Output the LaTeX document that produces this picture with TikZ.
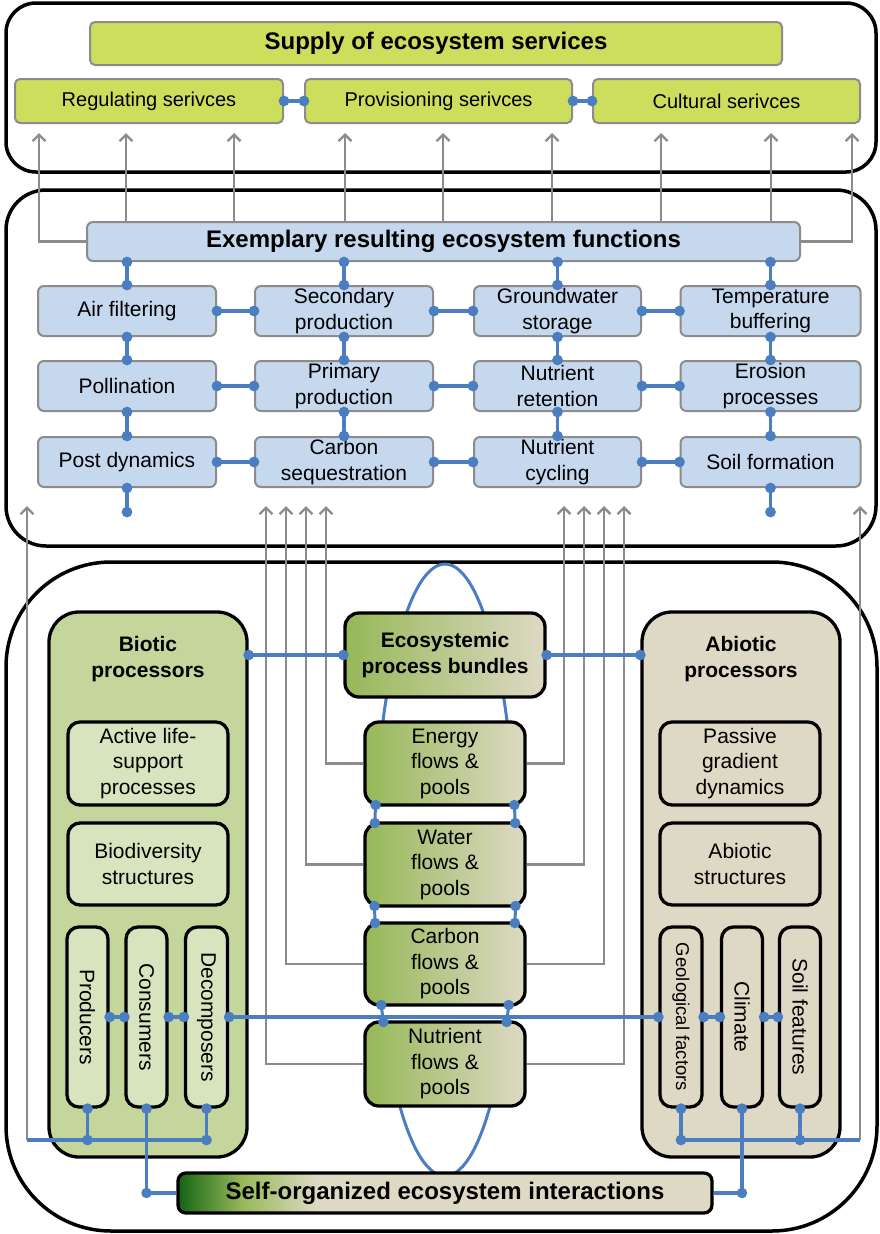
\documentclass[tikz,border=0pt]{standalone}
\usepackage{fontspec}
\setmainfont{Liberation Sans}
\usetikzlibrary{arrows.meta}
\definecolor{blu}{RGB}{74,126,192}
\definecolor{gry}{RGB}{140,140,140}
\definecolor{svcg}{RGB}{205,222,92}
\definecolor{fun}{RGB}{198,216,238}
\definecolor{bio}{RGB}{196,214,155}
\definecolor{bioin}{RGB}{216,228,190}
\definecolor{abio}{RGB}{221,217,196}
\definecolor{grn}{RGB}{150,184,88}
\definecolor{dkgrn}{RGB}{20,100,20}
\pgfdeclarehorizontalshading{selforg}{100bp}{color(0bp)=(dkgrn); color(25bp)=(dkgrn); color(31bp)=(grn); color(38bp)=(abio); color(100bp)=(abio)}
\pgfdeclarelayer{bg}
\pgfsetlayers{bg,main}
\begin{document}
\begin{tikzpicture}[x=1pt,y=-1pt,
  outerbox/.style={draw=black,line width=3.5},
  svc/.style={draw=gry,line width=2,fill=svcg,rounded corners=5,inner sep=0,font=\fontsize{20}{24}\selectfont},
  fbox/.style={draw=gry,line width=2,fill=fun,rounded corners=6,inner sep=0,align=center,font=\fontsize{21}{25.5}\selectfont},
  pbox/.style={draw=black,line width=3.3,rounded corners=12,inner sep=0,align=center,font=\fontsize{21}{25.5}\selectfont},
  flowbox/.style={pbox,rounded corners=14,left color=grn,right color=abio},
  titletext/.style={inner sep=0,align=center,font=\fontsize{21}{26}\selectfont\bfseries},
  bigbold/.style={font=\fontsize{24}{28}\selectfont\bfseries},
  bc/.style={draw=blu,line width=3.2,{Circle[length=10.5pt]}-{Circle[length=10.5pt]},shorten <=-5.25pt,shorten >=-5.25pt},
  bcs/.style={draw=blu,line width=3.2,{Circle[length=10.5pt]}-,shorten <=-5.25pt},
  bl/.style={draw=blu,line width=3.2},
  ga/.style={draw=gry,line width=2.3,-{Straight Barb[length=6.5pt,width=13pt]}},
  ell/.style={draw=blu,line width=3}
]
\useasboundingbox (0,0) rectangle (879,1234);

% ---------- top: services ----------
\node[svc,bigbold,minimum width=692,minimum height=43] (sup) at (436,43.5) {Supply of ecosystem services};
\node[svc,minimum width=268,minimum height=44] (reg) at (149,101) {Regulating serivces};
\node[svc,minimum width=267,minimum height=44] (pro) at (438.5,101) {Provisioning serivces};
\node[svc,minimum width=267,minimum height=44] (cul) at (726.5,101) {Cultural serivces};

% ---------- middle: functions ----------
\node[fbox,bigbold,minimum width=713,minimum height=39] (ex) at (443.5,241.5) {Exemplary resulting ecosystem functions};
\node[fbox,minimum width=178,minimum height=50] (f11) at (127,311) {Air filtering};
\node[fbox,minimum width=178,minimum height=50] (f12) at (344,311) {Secondary\\production};
\node[fbox,minimum width=167,minimum height=50] (f13) at (557.5,311) {Groundwater\\storage};
\node[fbox,minimum width=180,minimum height=50] (f14) at (770.5,311) {Temperature\\buffering};
\node[fbox,minimum width=178,minimum height=50] (f21) at (127,386) {Pollination};
\node[fbox,minimum width=178,minimum height=50] (f22) at (344,386) {Primary\\production};
\node[fbox,minimum width=167,minimum height=50] (f23) at (557.5,386) {Nutrient\\retention};
\node[fbox,minimum width=180,minimum height=50] (f24) at (770.5,386) {Erosion\\processes};
\node[fbox,minimum width=178,minimum height=50] (f31) at (127,462) {Post dynamics};
\node[fbox,minimum width=178,minimum height=50] (f32) at (344,462) {Carbon\\sequestration};
\node[fbox,minimum width=167,minimum height=50] (f33) at (557.5,462) {Nutrient\\cycling};
\node[fbox,minimum width=180,minimum height=50] (f34) at (770.5,462) {Soil formation};

% ---------- bottom: processors ----------
\node[pbox,fill=bio,rounded corners=30,minimum width=198,minimum height=545] (bio) at (148,884.5) {};
\node[titletext] (bioT) at (148,659) {Biotic\\processors};
\node[pbox,fill=bioin,minimum width=160,minimum height=83] (act) at (148,763.5) {Active life-\\support\\processes};
\node[pbox,fill=bioin,minimum width=160,minimum height=82] (bdv) at (148,864) {Biodiversity\\structures};
\node[pbox,fill=bioin,rotate=-90,minimum width=180,minimum height=41] (pr) at (87.5,1017) {Producers};
\node[pbox,fill=bioin,rotate=-90,minimum width=180,minimum height=41] (co) at (146.5,1017) {Consumers};
\node[pbox,fill=bioin,rotate=-90,minimum width=180,minimum height=42] (de) at (206.5,1017) {Decomposers};

\node[pbox,fill=abio,rounded corners=30,minimum width=198,minimum height=545] (abi) at (741,884.5) {};
\node[titletext] (abiT) at (741,659) {Abiotic\\processors};
\node[pbox,fill=abio,minimum width=160,minimum height=83] (pas) at (740,763.5) {Passive\\gradient\\dynamics};
\node[pbox,fill=abio,minimum width=160,minimum height=82] (abs) at (740,864) {Abiotic\\structures};
\node[pbox,fill=abio,rotate=-90,minimum width=180,minimum height=42,font=\fontsize{18.5}{22}\selectfont] (geo) at (681,1017) {Geological factors};
\node[pbox,fill=abio,rotate=-90,minimum width=180,minimum height=41] (cli) at (742,1017) {Climate};
\node[pbox,fill=abio,rotate=-90,minimum width=180,minimum height=41] (soil) at (800,1017) {Soil features};

\node[flowbox,font=\fontsize{21}{25.5}\selectfont\bfseries,minimum width=200,minimum height=84] (bun) at (445,655) {Ecosystemic\\process bundles};
\node[flowbox,minimum width=160,minimum height=83] (en) at (445,763.5) {Energy\\flows \&\\pools};
\node[flowbox,minimum width=160,minimum height=83] (wa) at (445,864.5) {Water\\flows \&\\pools};
\node[flowbox,minimum width=160,minimum height=82] (ca) at (445,964) {Carbon\\flows \&\\pools};
\node[flowbox,minimum width=160,minimum height=84] (nu) at (445,1064) {Nutrient\\flows \&\\pools};

\node[pbox,shade,shading=selforg,bigbold,rounded corners=8,minimum width=534,minimum height=40] (so) at (445,1193) {Self-organized ecosystem interactions};

% ---------- coordinates ----------
\coordinate (a1) at (39,133);
\coordinate (a2) at (126,133);
\coordinate (a3) at (234,133);
\coordinate (a4) at (345,133);
\coordinate (a5) at (443,133);
\coordinate (a6) at (552,133);
\coordinate (a7) at (661,133);
\coordinate (a8) at (771,133);
\coordinate (a9) at (852,133);
\coordinate (d1) at (127,512);
\coordinate (d4) at (770.5,512);
\coordinate (la) at (27,506);
\coordinate (ra) at (860,506);
\coordinate (lb) at (27,1140);
\coordinate (rb) at (860,1140);
\coordinate (e1) at (326,506);
\coordinate (e2) at (306,506);
\coordinate (e3) at (286,506);
\coordinate (e4) at (266,506);
\coordinate (g1) at (564,506);
\coordinate (g2) at (584,506);
\coordinate (g3) at (604,506);
\coordinate (g4) at (624,506);

% ---------- background: frames, ellipse, grey arrows ----------
\begin{pgfonlayer}{bg}
\draw[outerbox,rounded corners=30] (6,3) rectangle (876,172);
\draw[outerbox,rounded corners=40] (6,190) rectangle (876,546);
\draw[outerbox,rounded corners=105] (6,562) rectangle (877,1231);
\draw[ell] (445,870) ellipse [x radius=71,y radius=306];
\draw[ga] (ex.west) -| (a1);
\draw[ga] (ex.east) -| (a9);
\foreach \n in {a2,a3,a4,a5,a6,a7,a8} \draw[ga] (ex.north -| \n) -- (\n);
\draw[ga] (lb) -- (la);
\draw[ga] (rb) -- (ra);
\draw[ga] (en.west) -| (e1);
\draw[ga] (wa.west) -| (e2);
\draw[ga] (ca.west) -| (e3);
\draw[ga] (nu.west) -| (e4);
\draw[ga] (en.east) -| (g1);
\draw[ga] (wa.east) -| (g2);
\draw[ga] (ca.east) -| (g3);
\draw[ga] (nu.east) -| (g4);
\end{pgfonlayer}

% ---------- blue connectors ----------
\draw[bc] (reg.east) -- (pro.west);
\draw[bc] (pro.east) -- (cul.west);
\foreach \c in {1,2,3,4} {
  \draw[bc] (ex.south -| f1\c.north) -- (f1\c.north);
  \draw[bc] (f1\c.south) -- (f2\c.north);
  \draw[bc] (f2\c.south) -- (f3\c.north);
}
\foreach \r in {1,2,3} {
  \draw[bc] (f\r1.east) -- (f\r2.west);
  \draw[bc] (f\r2.east) -- (f\r3.west);
  \draw[bc] (f\r3.east) -- (f\r4.west);
}
\draw[bc] (f31.south) -- (d1);
\draw[bc] (f34.south) -- (d4);

\draw[bc] (bio.east |- bun.west) -- (bun.west);
\draw[bc] (bun.east) -- (abi.west |- bun.east);
\draw[bc] (pr.north) -- (co.south);
\draw[bc] (co.north) -- (de.south);
\draw[bc] (de.north) -- (geo.south);
\draw[bc] (geo.north) -- (cli.south);
\draw[bc] (cli.north) -- (soil.south);

\draw[bl] (lb) -- (de.east |- lb);
\draw[bc] (pr.east) -- (pr.east |- lb);
\draw[bc] (de.east) -- (de.east |- lb);
\draw[bcs] (co.east) -- (co.east |- so.west) -- (so.west);
\fill[blu] (co.east |- so.west) circle (5.25);

\draw[bl] (geo.east |- rb) -- (rb);
\draw[bc] (geo.east) -- (geo.east |- rb);
\draw[bc] (soil.east) -- (soil.east |- rb);
\draw[bcs] (cli.east) -- (cli.east |- so.east) -- (so.east);
\fill[blu] (cli.east |- so.east) circle (5.25);

% dots where the bundle ring meets the stacked flow boxes
\foreach \x/\y in {375.6/805,374.8/823,514.4/805,515.2/823,374.5/906,375.1/923,515.5/906,514.9/923,381.3/1005,383.4/1022,508.7/1005,506.6/1022}
  \fill[blu] (\x,\y) circle (5.25);
\end{tikzpicture}
\end{document}
